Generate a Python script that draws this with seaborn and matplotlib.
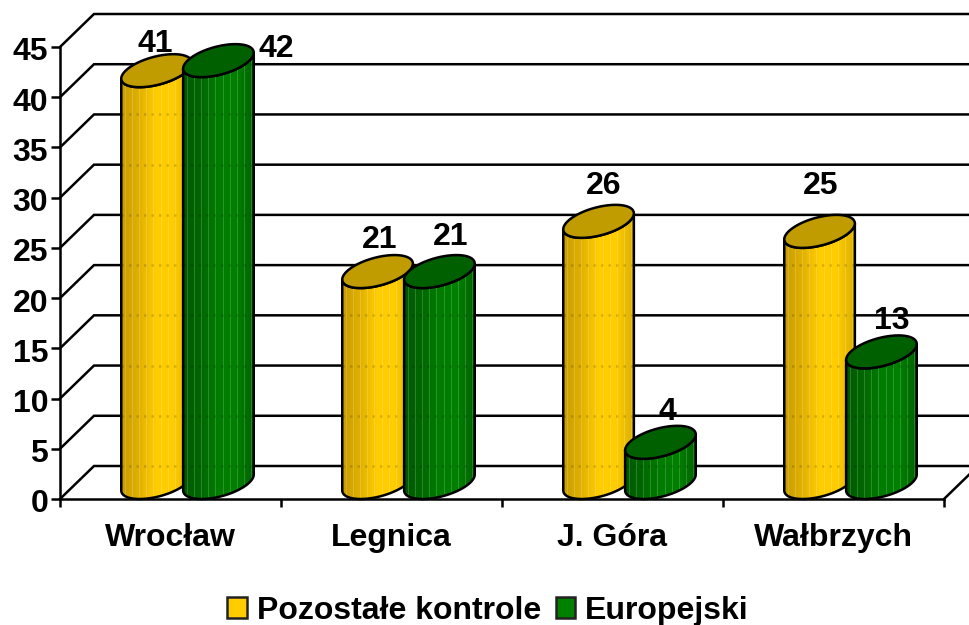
import matplotlib
matplotlib.use("Agg")
import matplotlib.pyplot as plt
import numpy as np
import pandas as pd
import seaborn as sns
from matplotlib.patches import Patch, PathPatch, Polygon
from matplotlib.path import Path
from matplotlib.transforms import ScaledTranslation

sns.set_style("white")
plt.rcParams["font.family"] = ["Liberation Sans", "DejaVu Sans"]
plt.rcParams["font.weight"] = "bold"
plt.rcParams["text.color"] = "black"
plt.rcParams["xtick.color"] = "black"
plt.rcParams["ytick.color"] = "black"

cities = ["Wrocław", "Legnica", "J. Góra", "Wałbrzych"]
series_names = ["Pozostałe kontrole", "Europejski"]
pozostale = [41, 21, 26, 25]
europejski = [42, 21, 4, 13]
y_ticks = [0, 5, 10, 15, 20, 25, 30, 35, 40, 45]

# value label offsets from the cylinder top, in pixels (placed by hand in the original)
label_offsets = [
    [(-1, 27), (2, 32), (5, 35), (1, 45)],
    [(58, 12), (11, 35), (7, 30), (10, 31)],
]
ramps = [
    ["#c89c00", "#e0b000", "#ffcc00", "#ffcc00", "#dcb000"],
    ["#005800", "#006800", "#007c00", "#008000", "#006400"],
]
top_colors = ["#c09c00", "#006000"]
legend_colors = ["#ffcc00", "#008000"]

W, H = 970, 625
LEFT, RIGHT, BOTTOM, TOP = 60, 944, 499, 47
PX_X = 4 / (RIGHT - LEFT)
PX_Y = 45 / (BOTTOM - TOP)
DEPTH_X = 34 * PX_X
DEPTH_Y = 33 * PX_Y
LW = 1.8
FONT = 23

df = pd.DataFrame(
    {
        "city": cities * 2,
        "series": np.repeat(series_names, len(cities)),
        "value": pozostale + europejski,
    }
)

fig = plt.figure(figsize=(W / 100, H / 100), dpi=100)
ax = fig.add_axes(
    [LEFT / W, (H - BOTTOM) / H, (RIGHT - LEFT) / W, (BOTTOM - TOP) / H]
)
sns.barplot(
    data=df,
    x="city",
    y="value",
    hue="series",
    order=cities,
    hue_order=series_names,
    width=0.56,
    legend=False,
    ax=ax,
)
ax.set(xlim=(-0.5, 3.5), ylim=(0, 45), xlabel="", ylabel="")
ax.patch.set_visible(False)

# back wall and the side wall lines
for v in y_ticks:
    ax.plot(
        [-0.5, -0.5 + DEPTH_X, 3.5 + DEPTH_X],
        [v, v + DEPTH_Y, v + DEPTH_Y],
        color="black",
        lw=LW,
        clip_on=False,
        solid_joinstyle="miter",
        zorder=1,
    )
ax.plot(
    [3.5, 3.5 + DEPTH_X],
    [0, DEPTH_Y],
    color="black",
    lw=LW,
    clip_on=False,
    zorder=1,
)


def ellipse_arc(cx, cy, rx, t):
    return np.column_stack(
        [
            cx + rx * np.cos(t) + DEPTH_X / 2 * np.sin(t),
            cy + DEPTH_Y / 2 * np.sin(t),
        ]
    )


def draw_cylinder(bar, series_idx, z):
    rx = bar.get_width() / 2
    cx = bar.get_x() + rx + DEPTH_X / 2
    base = DEPTH_Y / 2
    top = base + bar.get_height()
    t0 = np.arctan2(DEPTH_X / 2, rx)
    arc = np.linspace(t0, t0 - np.pi, 60)

    # body outline: front of the bottom disc, then front of the top disc
    outline = np.vstack(
        [ellipse_arc(cx, base, rx, arc), ellipse_arc(cx, top, rx, arc[::-1])]
    )
    body = Polygon(
        outline,
        closed=True,
        facecolor="none",
        edgecolor="black",
        lw=LW,
        joinstyle="round",
        clip_on=False,
        zorder=z + 0.3,
    )
    clip = PathPatch(Path(outline), transform=ax.transData)

    half = np.hypot(rx, DEPTH_X / 2)
    n_cols = 70
    colors = np.array(sns.blend_palette(ramps[series_idx], n_colors=n_cols))
    # thin light ribs of the original shading
    ribs = np.arange(4, n_cols, 7)
    colors[ribs] = colors[ribs] * 0.82 + 0.18
    im = ax.imshow(
        colors[np.newaxis, :, :3],
        extent=(cx - half, cx + half, 0, top + DEPTH_Y),
        aspect="auto",
        interpolation="nearest",
        zorder=z,
    )
    im.set_clip_path(clip)

    # back grid faintly showing through the ribs
    grid = ax.hlines(
        np.array(y_ticks) + DEPTH_Y,
        cx - half,
        cx + half,
        colors="black",
        alpha=0.15,
        lw=LW,
        linestyles=(0, (1, 2)),
        zorder=z + 0.1,
    )
    grid.set_clip_path(clip)

    ax.add_patch(body)
    disc = Polygon(
        ellipse_arc(cx, top, rx, np.linspace(0, 2 * np.pi, 120)),
        closed=True,
        facecolor=top_colors[series_idx],
        edgecolor="black",
        lw=LW,
        clip_on=False,
        zorder=z + 0.4,
    )
    ax.add_patch(disc)
    return cx, top


z = 2
for series_idx, container in enumerate(ax.containers):
    for i, bar in enumerate(container):
        bar.set_visible(False)
        cx, top = draw_cylinder(bar, series_idx, z)
        ax.annotate(
            f"{bar.get_height():.0f}",
            xy=(cx, top),
            xytext=label_offsets[series_idx][i],
            textcoords="offset pixels",
            ha="center",
            va="center",
            fontsize=FONT,
            fontweight="bold",
            color="black",
            zorder=20,
        )
        z += 1

ax.set_xlim(-0.5, 3.5)
ax.set_ylim(0, 45)

sns.despine(ax=ax, top=True, right=True)
for side in ["left", "bottom"]:
    ax.spines[side].set_linewidth(LW)
    ax.spines[side].set_color("black")
    ax.spines[side].set_zorder(1.5)

ax.set_yticks(y_ticks)
ax.set_xticks(range(len(cities)))
ax.set_xticklabels(cities)
ax.set_xticks(np.arange(-0.5, 4), minor=True)
ax.tick_params(axis="y", left=True, length=6.5, width=LW, pad=2, labelsize=FONT)
ax.tick_params(axis="x", which="major", bottom=False, length=0, pad=17, labelsize=FONT)
ax.tick_params(axis="x", which="minor", bottom=True, length=6, width=LW)

# y labels sit a little lower than their ticks
nudge = ScaledTranslation(0, -2 / 100, fig.dpi_scale_trans)
for label in ax.get_yticklabels():
    label.set_transform(label.get_transform() + nudge)

handles = [
    Patch(facecolor=c, edgecolor="#222222", lw=LW) for c in legend_colors
]
ax.legend(
    handles,
    series_names,
    loc="center",
    bbox_to_anchor=(488 / W, (H - 611) / H),
    bbox_transform=fig.transFigure,
    ncol=2,
    frameon=False,
    fontsize=FONT,
    handlelength=0.62,
    handleheight=0.62,
    handletextpad=0.3,
    columnspacing=0.45,
    borderpad=0,
    borderaxespad=0,
)

fig.savefig("out.png", dpi=100)
